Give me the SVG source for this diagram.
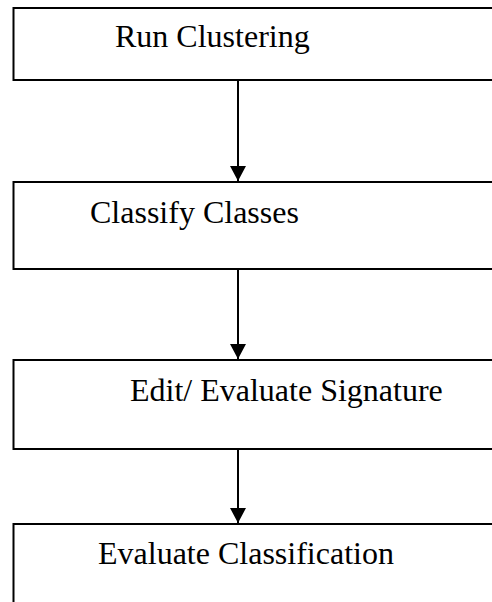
<svg xmlns="http://www.w3.org/2000/svg" width="492" height="602" viewBox="0 0 492 602">
<style>
.box{fill:#fff;stroke:#000;stroke-width:2}
.lbl{font-family:"Liberation Serif","Times New Roman",serif;font-size:32px;fill:#000}
.conn{stroke:#000;stroke-width:2;fill:none}
</style>
<defs>
<marker id="ah" markerUnits="userSpaceOnUse" markerWidth="15" markerHeight="16" refX="15" refY="8" orient="auto">
<path d="M0,0 L15,8 L0,16 Z" fill="#000"/>
</marker>
</defs>
<rect width="492" height="602" fill="#fff"/>
<g id="n1"><rect class="box" x="13.5" y="8" width="490" height="72"/><text class="lbl" x="115" y="47">Run Clustering</text></g>
<g id="n2"><rect class="box" x="13.5" y="182" width="490" height="87"/><text class="lbl" x="90" y="223">Classify Classes</text></g>
<g id="n3"><rect class="box" x="13.5" y="360" width="490" height="89"/><text class="lbl" x="130" y="401">Edit/ Evaluate Signature</text></g>
<g id="n4"><rect class="box" x="13.5" y="524" width="490" height="100"/><text class="lbl" x="98" y="564">Evaluate Classification</text></g>
<g id="connectors">
<line class="conn" x1="238" y1="80" x2="238" y2="181" marker-end="url(#ah)"/>
<line class="conn" x1="238" y1="269" x2="238" y2="359" marker-end="url(#ah)"/>
<line class="conn" x1="238" y1="449" x2="238" y2="523" marker-end="url(#ah)"/>
</g>
</svg>
